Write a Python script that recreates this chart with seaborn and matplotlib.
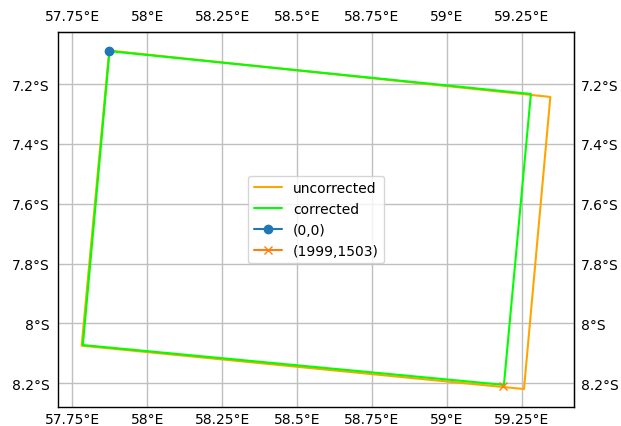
import matplotlib
matplotlib.use("Agg")
import matplotlib.pyplot as plt
import seaborn as sns
import pandas as pd
from matplotlib.ticker import FuncFormatter, FixedLocator

# --- data (lon/lat of footprint corners) ---
unc_lon = [57.873, 59.346, 59.258, 57.781, 57.873]
unc_lat = [-7.088, -7.243, -8.219, -8.074, -7.088]
cor_lon = [57.874, 59.281, 59.191, 57.785, 57.874]
cor_lat = [-7.090, -7.233, -8.205, -8.072, -7.090]
p00_lon = [57.8735]
p00_lat = [-7.089]
pend_lon = [59.189]
pend_lat = [-8.209]

lon_ticks = [57.75, 58.0, 58.25, 58.5, 58.75, 59.0, 59.25]
lat_ticks = [-7.2, -7.4, -7.6, -7.8, -8.0, -8.2]

sns.set_style("white")
plt.rcParams.update({
    "text.color": "black", "axes.labelcolor": "black",
    "xtick.color": "black", "ytick.color": "black",
    "axes.edgecolor": "black", "font.family": ["DejaVu Sans"],
})
fig = plt.figure(figsize=(6.21, 4.27), dpi=100)
ax = fig.add_axes([58.3 / 621, 1 - 407.7 / 427, (574.3 - 58.3) / 621, (407.7 - 33.3) / 427])

unc = pd.DataFrame({"lon": unc_lon, "lat": unc_lat})
cor = pd.DataFrame({"lon": cor_lon, "lat": cor_lat})
sns.lineplot(data=unc, x="lon", y="lat", sort=False, estimator=None, color="orange",
             lw=1.5, label="uncorrected", ax=ax, zorder=3)
sns.lineplot(data=cor, x="lon", y="lat", sort=False, estimator=None, color="lime",
             lw=1.5, label="corrected", ax=ax, zorder=3)
ax.plot(p00_lon, p00_lat, marker="o", color="C0", label="(0,0)", zorder=4)
ax.plot(pend_lon, pend_lat, marker="x", color="C1", label="(1999,1503)", zorder=4)

ax.set_xlim(57.703, 59.426)
ax.set_ylim(-8.278, -7.027)
ax.set_xlabel("")
ax.set_ylabel("")

lonfmt = FuncFormatter(lambda v, p: f"{v:g}°E")
latfmt = FuncFormatter(lambda v, p: f"{abs(v):g}°S")

ax.xaxis.set_major_locator(FixedLocator(lon_ticks))
ax.yaxis.set_major_locator(FixedLocator(lat_ticks))
ax.xaxis.set_major_formatter(lonfmt)
ax.yaxis.set_major_formatter(latfmt)
ax.tick_params(axis="x", length=0, pad=3.6, labelsize=10, colors="black")
ax.tick_params(axis="y", length=0, pad=6.5, labelsize=10, colors="black")
ax.grid(True, color="0.75", lw=1, zorder=1)

top = ax.secondary_xaxis("top")
top.xaxis.set_major_locator(FixedLocator(lon_ticks))
top.xaxis.set_major_formatter(lonfmt)
top.tick_params(length=0, pad=7.0, labelsize=10, colors="black")
right = ax.secondary_yaxis("right")
right.yaxis.set_major_locator(FixedLocator(lat_ticks))
right.yaxis.set_major_formatter(latfmt)
right.tick_params(length=0, pad=5.0, labelsize=10, colors="black")

for s in ax.spines.values():
    s.set_visible(True)
    s.set_color("black")
    s.set_linewidth(1.0)

leg = ax.legend(loc="center", fontsize=10)
for t in leg.get_texts():
    t.set_color("black")

fig.savefig("out.png", dpi=100)
